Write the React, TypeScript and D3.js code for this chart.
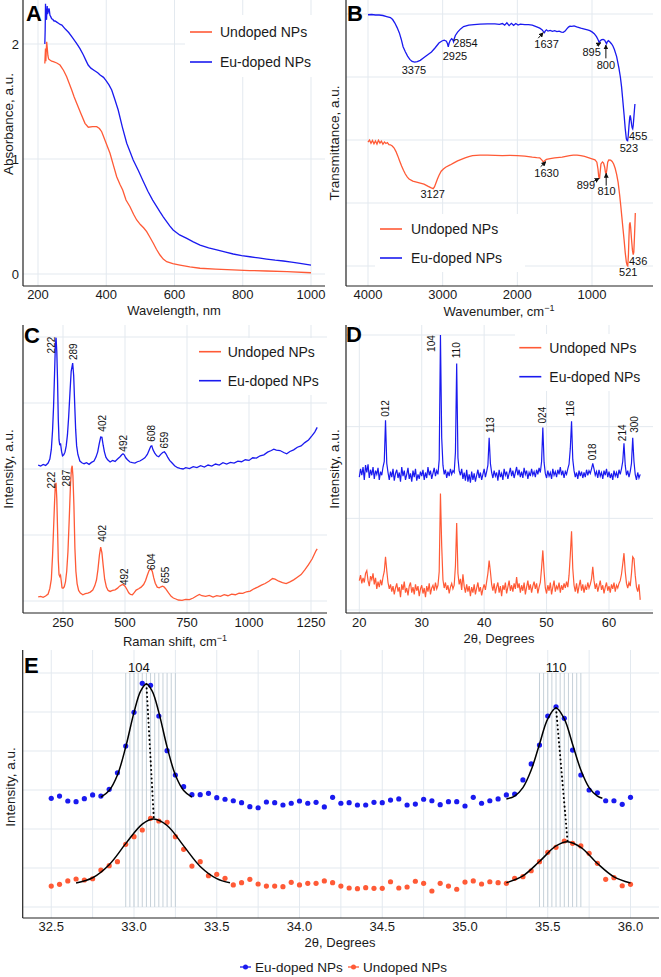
import React from 'react';
import * as d3 from 'd3';

type Pt = [number, number];

const FONT = 'Liberation Sans, Arial, Helvetica, sans-serif';
const RED = '#ff5a36';
const BLUE = '#1a1aef';
const GRID = '#e3e9ef';
const RUG = '#c6d1d9';
const AXIS = '#222';

// ---------- Panel A: UV-Vis ----------
const uvUndoped: Pt[] = [[220,1.83],[221,1.90],[222,1.96],[223,1.85],[224,1.93],[225.5,2.02],[227,1.97],[229,1.90],[231,1.87],[235,1.86],[240,1.85],[245,1.846],[255,1.835],[264.5,1.817],[275,1.77],[284,1.716],[291,1.66],[298.8,1.6],[306,1.54],[313.4,1.484],[325,1.40],[337.7,1.31],[347.4,1.276],[360,1.282],[372,1.281],[380,1.265],[386.7,1.237],[398,1.15],[411,1.05],[420,0.955],[430.6,0.846],[440,0.78],[448.2,0.73],[457.9,0.643],[469.6,0.585],[480,0.52],[489.2,0.47],[500,0.43],[510,0.40],[518.5,0.368],[528,0.32],[537.9,0.267],[547,0.215],[557.5,0.165],[567,0.13],[577.1,0.107],[595,0.09],[616.1,0.078],[645,0.062],[674.7,0.05],[720,0.042],[771.4,0.035],[820,0.03],[870,0.026],[930,0.02],[1000,0.011]];
const uvEu: Pt[] = [[220,2.0],[221,2.12],[222,2.35],[223,2.22],[224,2.26],[225,2.21],[226,2.29],[227,2.33],[228,2.26],[230,2.28],[232,2.31],[233,2.30],[235,2.25],[237,2.24],[240,2.22],[243,2.215],[247,2.2],[250,2.2],[255,2.19],[260,2.18],[265,2.17],[270,2.165],[280,2.13],[290,2.1],[300,2.06],[313,2.006],[323,1.96],[333,1.904],[340,1.86],[347,1.817],[355,1.79],[365,1.77],[375,1.75],[382,1.73],[392,1.71],[400,1.68],[408,1.645],[416,1.6],[425,1.52],[435,1.426],[447,1.28],[460,1.137],[470,1.06],[479,0.991],[494,0.9],[509,0.803],[522,0.72],[536,0.643],[547,0.59],[557,0.542],[567,0.497],[577,0.455],[586,0.418],[596,0.383],[615,0.34],[636,0.31],[655,0.28],[675,0.252],[700,0.228],[724,0.209],[750,0.19],[772,0.174],[797,0.16],[821,0.15],[846,0.14],[870,0.13],[895,0.12],[919,0.113],[943,0.104],[968,0.093],[1000,0.078]];
const uvTicksX = [200, 400, 600, 800, 1000];
const uvTicksY = [0, 1, 2];

// ---------- Panel B: FTIR ----------
const irEu: Pt[] = [[4000,99.7],[3950,99.8],[3900,99.6],[3850,99.6],[3800,99.4],[3750,99.0],[3700,98.6],[3670,97.8],[3640,96.4],[3610,94.6],[3580,92.5],[3555,90.0],[3530,87.0],[3500,85.0],[3470,83.3],[3440,82.0],[3410,81.2],[3375,80.9],[3340,81.1],[3300,81.6],[3250,82.7],[3200,83.8],[3150,84.9],[3100,86.6],[3050,88.5],[3010,89.3],[2980,89.6],[2950,89.2],[2935,88.2],[2925,87.0],[2915,88.3],[2900,89.5],[2880,90.2],[2865,89.8],[2854,89.0],[2845,90.2],[2830,91.5],[2800,92.8],[2760,94.1],[2720,95.0],[2650,95.6],[2580,95.8],[2500,96.0],[2400,96.1],[2300,96.1],[2240,95.9],[2200,96.2],[2170,95.6],[2140,96.5],[2110,95.4],[2080,96.3],[2050,95.5],[2020,96.2],[1990,95.6],[1960,96.0],[1900,95.8],[1850,95.8],[1800,95.6],[1740,94.9],[1700,94.4],[1670,93.8],[1650,93.0],[1637,92.6],[1625,93.3],[1610,93.7],[1590,93.2],[1560,93.5],[1530,93.1],[1500,93.4],[1470,93.0],[1440,93.2],[1410,92.8],[1385,92.7],[1360,93.2],[1340,94.0],[1315,94.8],[1296,95.2],[1270,95.1],[1240,95.3],[1205,94.9],[1150,94.4],[1100,94.0],[1060,93.7],[1029,93.4],[1000,92.9],[970,92.2],[940,91.0],[920,89.9],[903,88.6],[890,89.4],[870,89.8],[850,89.9],[830,89.6],[815,88.7],[805,88.2],[795,89.0],[780,89.4],[760,88.9],[740,88.2],[720,87.3],[700,85.9],[670,83.1],[640,78.6],[620,75.0],[604,71.1],[590,66.5],[570,59.9],[555,54.5],[540,50.5],[530,49.8],[523,49.7],[515,51.5],[505,55.5],[495,58.9],[488,59.8],[480,58.5],[470,56.2],[462,54.8],[455,54.4],[448,55.8],[440,58.7],[432,61.8],[425,64.3]];
const irUndoped: Pt[] = [[4000,49.2],[3980,50.0],[3960,48.7],[3940,49.8],[3920,48.5],[3900,49.6],[3880,48.4],[3860,49.9],[3840,48.8],[3820,49.5],[3800,48.3],[3780,49.2],[3760,48.6],[3740,49.0],[3720,48.2],[3700,48.1],[3675,47.6],[3650,46.8],[3625,45.4],[3600,43.6],[3575,41.6],[3550,39.7],[3525,38.0],[3500,36.5],[3475,35.4],[3450,34.5],[3400,33.7],[3350,33.3],[3300,32.9],[3250,32.5],[3200,31.7],[3160,31.1],[3127,30.7],[3110,31.4],[3090,32.9],[3070,34.5],[3050,35.9],[3020,37.6],[2990,38.5],[2960,39.2],[2900,40.1],[2850,40.9],[2800,41.7],[2750,42.3],[2700,42.9],[2650,43.4],[2600,43.8],[2500,44.0],[2400,44.0],[2300,43.9],[2200,43.8],[2100,43.9],[2000,43.8],[1900,43.6],[1800,43.2],[1740,43.0],[1700,42.9],[1670,42.0],[1652,41.3],[1635,41.8],[1610,42.3],[1560,42.6],[1500,42.9],[1400,43.2],[1300,43.8],[1250,44.0],[1200,44.0],[1150,43.8],[1100,43.5],[1050,43.0],[1000,42.5],[960,42.1],[935,41.2],[920,38.5],[910,35.5],[899,34.6],[890,37.5],[880,40.5],[860,41.3],[845,40.8],[830,39.2],[820,37.2],[810,36.6],[800,38.5],[790,41.2],[775,42.1],[750,42.0],[730,41.5],[710,40.5],[690,38.8],[670,36.4],[650,33.2],[630,28.2],[615,24.0],[600,19.4],[585,14.8],[570,10.3],[555,5.3],[540,1.5],[530,0.3],[521,0.0],[512,4.5],[505,11.5],[498,16.5],[490,17.3],[482,15.2],[470,10.3],[458,6.2],[448,4.5],[440,5.5],[432,11.0],[425,16.5],[420,21.0]];
const irTicksX = [4000, 3000, 2000, 1000];
const irGridY = [0, 25, 50, 75, 100];
// label text, [wavenumber, T] of label centre
const irLabelsEu: [string, number, number][] = [['3375',3384,77.8],['2925',2835,83.4],['2854',2694,88.4],['1637',1608,88.0],['895',1005,84.8],['800',814,79.8],['523',506,46.9],['455',382,51.7]];
const irLabelsUndoped: [string, number, number][] = [['3127',3134,28.5],['1630',1608,36.8],['899',1082,32.1],['810',805,29.8],['521',515,-2.3],['436',382,2.0]];
// arrows [tailWn, tailT, headWn, headT]
const irArrows: [number, number, number, number][] = [[1720,90.4,1653,92.6],[938,87.7,881,88.6],[814,82.4,814,87.7],[1688,39.4,1617,41.4],[984,33.5,904,34.8],[810,31.9,810,36.8]];

// ---------- Panel C: Raman ----------
const ramanEu: Pt[] = [[150,2060],[160,2045],[170,2070],[180,2055],[190,2091],[197,2150],[203,2300],[208,2591],[212,2950],[216,3450],[219,3850],[222,3990],[225,3780],[228,3350],[231,2750],[234,2440],[237,2360],[240,2390],[244,2270],[248,2200],[253,2215],[258,2255],[263,2350],[268,2520],[273,2800],[278,3150],[283,3480],[289,3606],[293,3420],[297,3000],[301,2600],[305,2350],[310,2220],[318,2121],[326,2095],[335,2080],[345,2095],[355,2070],[365,2100],[375,2120],[383,2180],[390,2260],[396,2380],[402,2485],[407,2480],[412,2360],[417,2260],[423,2180],[430,2140],[440,2106],[450,2130],[460,2115],[470,2150],[480,2185],[487,2215],[492,2230],[497,2215],[503,2170],[510,2140],[520,2106],[530,2095],[540,2090],[550,2110],[560,2121],[570,2145],[580,2170],[590,2220],[598,2290],[604,2345],[608,2350],[613,2290],[620,2240],[628,2200],[636,2185],[645,2225],[652,2250],[659,2260],[665,2230],[672,2180],[680,2130],[690,2090],[700,2050],[712,2020],[722,2010],[734,2000],[745,2020],[760,2005],[775,2035],[790,2020],[805,2050],[820,2030],[835,2060],[850,2045],[865,2075],[880,2060],[895,2095],[910,2075],[925,2100],[940,2090],[955,2120],[970,2110],[985,2140],[1000,2130],[1015,2170],[1030,2165],[1045,2200],[1060,2215],[1075,2255],[1090,2280],[1100,2300],[1110,2285],[1125,2280],[1140,2250],[1152,2230],[1165,2265],[1180,2290],[1195,2330],[1210,2350],[1225,2400],[1240,2440],[1255,2510],[1265,2560],[1275,2630]];
const ramanUndoped: Pt[] = [[150,61],[160,70],[170,55],[180,75],[190,106],[197,190],[203,330],[208,697],[212,1100],[216,1500],[219,1757],[222,1790],[225,1550],[228,1100],[231,620],[234,400],[237,370],[240,390],[243,300],[246,200],[250,195],[255,215],[260,290],[265,450],[270,750],[275,1227],[280,1750],[284,2000],[287,2050],[290,1900],[294,1450],[298,800],[302,450],[307,260],[313,160],[320,120],[330,95],[340,110],[350,121],[360,135],[370,167],[378,230],[385,318],[391,480],[397,700],[402,818],[407,730],[412,540],[418,330],[425,210],[432,160],[440,145],[450,160],[460,170],[470,195],[478,225],[485,240],[492,250],[500,225],[508,175],[515,125],[522,100],[530,95],[538,130],[545,165],[555,185],[565,210],[575,250],[583,310],[590,390],[597,460],[604,488],[610,450],[616,350],[622,270],[630,210],[638,200],[645,215],[651,225],[657,215],[663,190],[670,155],[678,110],[686,70],[695,45],[705,30],[715,15],[730,10],[745,25],[760,20],[775,45],[790,80],[800,100],[810,80],[825,70],[840,85],[855,60],[870,80],[885,70],[900,95],[915,80],[930,105],[945,95],[960,120],[975,115],[990,140],[1005,150],[1020,185],[1035,210],[1050,240],[1065,265],[1080,300],[1095,340],[1105,330],[1120,300],[1135,280],[1150,265],[1165,290],[1180,320],[1195,360],[1210,400],[1225,470],[1240,550],[1255,640],[1270,760],[1275,790]];
const ramanTicksX = [250, 500, 750, 1000, 1250];
const ramanGridY = [0, 1000, 2000, 3000, 4000];
const ramanLabelsEu: [string, number, number][] = [['222',204,3878],['289',294,3777],['402',408,2692],['492',496,2389],['608',608,2541],['659',661,2439]];
const ramanLabelsUndoped: [string, number, number][] = [['222',204,1833],['287',266,1863],['402',408,1026],['492',500,368],['604',608,595],['655',665,394]];

// ---------- Panel D: XRD ----------
const xrdTwoTheta = [20.0,20.2,20.4,20.6,20.8,21.0,21.2,21.4,21.6,21.8,22.0,22.2,22.4,22.6,22.8,23.0,23.2,23.4,23.6,23.8,24.0,24.2,24.4,24.6,24.8,25.0,25.2,25.4,25.6,25.8,26.0,26.2,26.4,26.6,26.8,27.0,27.2,27.4,27.6,27.8,28.0,28.2,28.4,28.6,28.8,29.0,29.2,29.4,29.6,29.8,30.0,30.2,30.4,30.6,30.8,31.0,31.2,31.4,31.6,31.8,32.0,32.2,32.4,32.6,32.8,33.0,33.2,33.4,33.6,33.8,34.0,34.2,34.4,34.6,34.8,35.0,35.2,35.4,35.6,35.8,36.0,36.2,36.4,36.6,36.8,37.0,37.2,37.4,37.6,37.8,38.0,38.2,38.4,38.6,38.8,39.0,39.2,39.4,39.6,39.8,40.0,40.2,40.4,40.6,40.8,41.0,41.2,41.4,41.6,41.8,42.0,42.2,42.4,42.6,42.8,43.0,43.2,43.4,43.6,43.8,44.0,44.2,44.4,44.6,44.8,45.0,45.2,45.4,45.6,45.8,46.0,46.2,46.4,46.6,46.8,47.0,47.2,47.4,47.6,47.8,48.0,48.2,48.4,48.6,48.8,49.0,49.2,49.4,49.6,49.8,50.0,50.2,50.4,50.6,50.8,51.0,51.2,51.4,51.6,51.8,52.0,52.2,52.4,52.6,52.8,53.0,53.2,53.4,53.6,53.8,54.0,54.2,54.4,54.6,54.8,55.0,55.2,55.4,55.6,55.8,56.0,56.2,56.4,56.6,56.8,57.0,57.2,57.4,57.6,57.8,58.0,58.2,58.4,58.6,58.8,59.0,59.2,59.4,59.6,59.8,60.0,60.2,60.4,60.6,60.8,61.0,61.2,61.4,61.6,61.8,62.0,62.2,62.4,62.6,62.8,63.0,63.2,63.4,63.6,63.8,64.0,64.2,64.4,64.6,64.8,65.0];
const xrdEu = [1450,1540,1470,1560,1420,1580,1500,1590,1440,1530,1470,1560,1430,1520,1480,1550,1420,1510,1470,1560,1620,2070,1600,1500,1420,1510,1450,1540,1410,1490,1530,1440,1500,1400,1560,1460,1520,1420,1480,1550,1430,1490,1400,1520,1450,1540,1410,1480,1430,1510,1460,1530,1420,1500,1440,1560,1470,1520,1430,1490,1550,1460,1520,1480,1640,3000,1880,1580,1480,1530,1440,1510,1460,1540,1480,1520,1500,1720,2690,1660,1520,1470,1540,1430,1500,1410,1530,1400,1480,1390,1510,1420,1490,1400,1470,1530,1440,1500,1420,1480,1540,1450,1510,1580,1880,1600,1500,1440,1520,1460,1500,1410,1530,1450,1490,1420,1540,1470,1510,1430,1490,1550,1460,1520,1440,1500,1560,1470,1530,1450,1510,1440,1550,1480,1520,1430,1500,1460,1540,1470,1510,1450,1530,1480,1550,1500,1620,1990,1610,1490,1440,1520,1460,1500,1430,1540,1470,1510,1450,1530,1480,1560,1470,1520,1440,1510,1480,1540,1590,1760,2060,1640,1520,1450,1500,1430,1520,1460,1510,1440,1500,1450,1530,1470,1520,1490,1540,1600,1540,1470,1510,1440,1530,1460,1500,1430,1520,1470,1540,1450,1510,1440,1490,1420,1520,1460,1500,1440,1530,1480,1540,1620,1820,1580,1470,1520,1450,1510,1600,1880,1620,1480,1420,1500,1440,1480];
const xrdUndoped = [320,380,290,350,300,400,430,320,260,370,330,400,280,350,230,310,250,330,270,360,420,580,430,300,230,280,200,260,170,240,290,200,250,140,280,220,310,190,240,160,260,300,190,250,170,280,210,260,150,230,270,180,240,140,260,200,290,170,240,270,210,300,230,270,420,1270,700,330,240,300,220,270,180,250,290,230,270,480,950,400,280,340,220,390,260,190,280,200,260,150,250,190,280,170,240,300,200,250,160,230,280,220,310,400,540,420,280,210,290,180,250,300,190,260,150,270,220,300,180,250,320,210,270,200,290,230,360,240,290,190,270,210,300,170,250,320,220,280,190,260,310,230,290,180,250,300,460,650,420,240,180,270,210,300,170,250,320,200,260,230,300,190,270,220,290,240,310,250,380,600,860,450,270,200,290,180,260,330,210,280,190,260,220,300,240,280,340,470,320,230,290,200,260,320,220,270,180,250,300,210,260,190,280,230,300,200,270,240,290,320,390,500,620,420,290,240,300,260,400,580,560,380,250,200,280,110];
const xrdTicksX = [20, 30, 40, 50, 60];
const xrdGridY = [0, 1000, 2000, 3000];
const xrdLabels: [string, number, number][] = [['012',24.12,2199],['104',31.6,2907],['110',35.6,2834],['113',40.95,2017],['024',49.33,2126],['116',53.88,2199],['018',57.34,1725],['214',62.21,1933],['300',64.02,2024]];

// ---------- Panel E: XRD zoom ----------
const zoomTwoTheta = [32.50,32.55,32.60,32.65,32.70,32.75,32.80,32.85,32.90,32.95,33.00,33.05,33.10,33.15,33.20,33.25,33.30,33.35,33.40,33.45,33.50,33.55,33.60,33.65,33.70,33.75,33.80,33.85,33.90,33.95,34.00,34.05,34.10,34.15,34.20,34.25,34.30,34.35,34.40,34.45,34.50,34.55,34.60,34.65,34.70,34.75,34.80,34.85,34.90,34.95,35.00,35.05,35.10,35.15,35.20,35.25,35.30,35.35,35.40,35.45,35.50,35.55,35.60,35.65,35.70,35.75,35.80,35.85,35.90,35.95,36.00];
const zoomEu = [1115,1138,1087,1080,1111,1149,1138,1207,1377,1651,1997,2294,2274,1959,1603,1354,1234,1152,1152,1166,1121,1105,1090,1070,1029,1018,1077,1070,1046,1064,1087,1064,1074,1026,1125,1064,1070,1046,1046,1074,1070,1097,1108,1046,1056,1105,1090,1049,1080,1080,1036,1125,1064,1090,1108,1149,1159,1303,1467,1661,1959,2054,1935,1610,1354,1200,1172,1090,1090,1053,1125];
const zoomUndoped = [215,233,267,287,277,290,379,424,465,643,721,790,910,882,869,721,592,420,465,321,335,294,226,249,284,236,215,215,208,253,226,243,243,267,249,215,195,188,198,192,192,259,195,205,264,243,164,243,215,182,256,267,236,259,249,243,294,311,372,465,561,612,677,653,626,551,448,284,301,218,233];
const fitEu104: Pt[] = [[32.80,1126],[32.85,1195],[32.90,1354],[32.95,1641],[33.00,1996],[33.04,2215],[33.075,2287],[33.11,2215],[33.15,1996],[33.20,1641],[33.25,1354],[33.30,1195],[33.35,1126]];
const fitEu110: Pt[] = [[35.25,1108],[35.30,1138],[35.35,1225],[35.40,1405],[35.45,1670],[35.50,1929],[35.55,2041],[35.60,1929],[35.65,1670],[35.70,1405],[35.75,1225],[35.80,1138],[35.83,1115]];
const fitUndoped104: Pt[] = [[32.65,246],[32.75,300],[32.85,434],[32.95,650],[33.05,851],[33.12,903],[33.20,836],[33.30,627],[33.40,416],[33.50,291],[33.58,248]];
const fitUndoped110: Pt[] = [[35.25,249],[35.35,319],[35.45,467],[35.55,626],[35.62,670],[35.70,611],[35.80,446],[35.90,309],[36.00,246]];
const shift104: Pt[] = [[33.075,2287],[33.12,903]];
const shift110: Pt[] = [[35.55,2041],[35.62,670]];
const rug104 = [32.95,32.975,33.0,33.025,33.05,33.075,33.1,33.125,33.15,33.175,33.2,33.225,33.25];
const rug110 = [35.45,35.475,35.5,35.525,35.55,35.575,35.6,35.625,35.65,35.675,35.7];
const zoomTicksX = [32.5, 33.0, 33.5, 34.0, 34.5, 35.0, 35.5, 36.0];
const zoomGridX = [32.5,32.75,33.0,33.25,33.5,33.75,34.0,34.25,34.5,34.75,35.0,35.25,35.5,35.75,36.0];
const zoomGridY = [0, 400, 800, 1200, 1600, 2000, 2400];
const zoomPeakLabels: [string, number][] = [['104', 33.03], ['110', 35.55]];

// ---------- scales ----------
const xA = d3.scaleLinear().domain([200, 1000]).range([38, 311]);
const yA = d3.scaleLinear().domain([0, 2]).range([274, 44]);
const xB = d3.scaleLinear().domain([4000, 1000]).range([368, 592]);
const yB = d3.scaleLinear().domain([0, 100]).range([266, 14]);
const xC = d3.scaleLinear().domain([250, 1250]).range([63, 311]);
const yC = d3.scaleLinear().domain([0, 4000]).range([601, 337]);
const xD = d3.scaleLinear().domain([20, 60]).range([359.3, 609]);
const yD = d3.scaleLinear().domain([0, 3000]).range([610, 335]);
const xE = d3.scaleLinear().domain([33, 35]).range([134, 465]);
const yE = d3.scaleLinear().domain([0, 2400]).range([907, 673]);

type Box = { x0: number; x1: number; y0: number; y1: number };
const boxA: Box = { x0: 23, x1: 325, y0: 0, y1: 286 };
const boxB: Box = { x0: 346, x1: 653, y0: 0, y1: 286 };
const boxC: Box = { x0: 23, x1: 327, y0: 325, y1: 613 };
const boxD: Box = { x0: 346, x1: 653, y0: 325, y1: 613 };
const boxE: Box = { x0: 22.7, x1: 659, y0: 650, y1: 918 };

const mkLine = (sx: d3.ScaleLinear<number, number>, sy: d3.ScaleLinear<number, number>) =>
  d3.line<Pt>().x(d => sx(d[0])).y(d => sy(d[1]));

function Grid({ box, xs, ys }: { box: Box; xs: number[]; ys: number[] }) {
  return (
    <g>
      {xs.map((x, i) => <line key={'gx' + i} x1={x} x2={x} y1={box.y0} y2={box.y1} stroke={GRID} strokeWidth={1} />)}
      {ys.map((y, i) => <line key={'gy' + i} x1={box.x0} x2={box.x1} y1={y} y2={y} stroke={GRID} strokeWidth={1} />)}
    </g>
  );
}

function Axes({ box }: { box: Box }) {
  return (
    <g>
      <line x1={box.x0} x2={box.x0} y1={box.y0} y2={box.y1} stroke={AXIS} strokeWidth={1.2} />
      <line x1={box.x0} x2={box.x1} y1={box.y1} y2={box.y1} stroke={AXIS} strokeWidth={1.2} />
    </g>
  );
}

function XTickLabels({ ticks, scale, y, fmt }: { ticks: number[]; scale: (v: number) => number; y: number; fmt?: (v: number) => string }) {
  return (
    <g>
      {ticks.map((t, i) => (
        <text key={i} x={scale(t)} y={y} textAnchor="middle" fontSize={13} fill="#1a1a1a">{fmt ? fmt(t) : String(t)}</text>
      ))}
    </g>
  );
}

function Legend({ x, y, w, h, lx, ly1, ly2, tx }: { x: number; y: number; w: number; h: number; lx: number; ly1: number; ly2: number; tx: number }) {
  return (
    <g>
      <rect x={x} y={y} width={w} height={h} fill="#fff" />
      <line x1={lx} x2={lx + 22} y1={ly1} y2={ly1} stroke={RED} strokeWidth={1.6} />
      <text x={tx} y={ly1 + 5} fontSize={14} fill="#1a1a1a">Undoped NPs</text>
      <line x1={lx} x2={lx + 22} y1={ly2} y2={ly2} stroke={BLUE} strokeWidth={1.6} />
      <text x={tx} y={ly2 + 5} fontSize={14} fill="#1a1a1a">Eu-doped NPs</text>
    </g>
  );
}

function RotLabel({ text, x, y, size = 10 }: { text: string; x: number; y: number; size?: number }) {
  return (
    <text x={x} y={y} transform={`rotate(-90 ${x} ${y})`} textAnchor="middle" dominantBaseline="central" fontSize={size} fill="#111">{text}</text>
  );
}

function YTitle({ text, x, y }: { text: string; x: number; y: number }) {
  return (
    <text x={x} y={y} transform={`rotate(-90 ${x} ${y})`} textAnchor="middle" dominantBaseline="central" fontSize={13.5} fill="#1a1a1a">{text}</text>
  );
}

function PanelLetter({ t, x, y }: { t: string; x: number; y: number }) {
  return <text x={x} y={y} fontSize={22} fontWeight="bold" fill="#000">{t}</text>;
}

export default function App() {
  const lA = mkLine(xA, yA);
  const lB = mkLine(xB, yB);
  const lC = mkLine(xC, yC);
  const lD = mkLine(xD, yD);
  const lE = mkLine(xE, yE).curve(d3.curveCatmullRom.alpha(0.5));
  const lEstraight = mkLine(xE, yE);

  const xrdEuPts: Pt[] = xrdTwoTheta.map((t, i) => [t, xrdEu[i]]);
  const xrdUnPts: Pt[] = xrdTwoTheta.map((t, i) => [t, xrdUndoped[i]]);

  return (
    <svg width={661} height={977} style={{ position: 'absolute', left: 0, top: 0, background: '#fff' }} fontFamily={FONT}>
      <defs>
        <marker id="arrowHead" viewBox="0 0 10 10" refX="9" refY="5" markerWidth="5" markerHeight="5" orient="auto">
          <path d="M0,0L10,5L0,10z" fill="#111" />
        </marker>
      </defs>
      <rect x={0} y={0} width={661} height={977} fill="#fff" />

      {/* ---------- Panel A ---------- */}
      <Grid box={boxA} xs={uvTicksX.map(xA)} ys={uvTicksY.map(yA)} />
      <Legend x={185} y={15} w={140} h={62} lx={190} ly1={32} ly2={62} tx={220} />
      <path d={lA(uvUndoped) || ''} fill="none" stroke={RED} strokeWidth={1.3} />
      <path d={lA(uvEu) || ''} fill="none" stroke={BLUE} strokeWidth={1.3} />
      <Axes box={boxA} />
      <XTickLabels ticks={uvTicksX} scale={xA} y={299} />
      {uvTicksY.map((t, i) => (
        <text key={i} x={19} y={yA(t) + 4.5} textAnchor="end" fontSize={13} fill="#1a1a1a">{t}</text>
      ))}
      <text x={174} y={314.5} textAnchor="middle" fontSize={13} fill="#1a1a1a">Wavelength, nm</text>
      <YTitle text="Absorbance, a.u." x={8} y={124} />
      <PanelLetter t="A" x={26} y={21} />

      {/* ---------- Panel B ---------- */}
      <Grid box={boxB} xs={irTicksX.map(xB)} ys={irGridY.map(yB)} />
      <Legend x={375} y={214} w={150} h={58} lx={380} ly1={229} ly2={258} tx={411} />
      <path d={lB(irEu) || ''} fill="none" stroke={BLUE} strokeWidth={1.3} />
      <path d={lB(irUndoped) || ''} fill="none" stroke={RED} strokeWidth={1.3} />
      {irLabelsEu.concat(irLabelsUndoped).map(([t, w, v], i) => (
        <text key={i} x={xB(w)} y={yB(v)} textAnchor="middle" dominantBaseline="central" fontSize={11} fill="#111">{t}</text>
      ))}
      {irArrows.map(([w0, v0, w1, v1], i) => (
        <line key={i} x1={xB(w0)} y1={yB(v0)} x2={xB(w1)} y2={yB(v1)} stroke="#111" strokeWidth={1} markerEnd="url(#arrowHead)" />
      ))}
      <Axes box={boxB} />
      <XTickLabels ticks={irTicksX} scale={xB} y={299} />
      <text x={499} y={316} textAnchor="middle" fontSize={13} fill="#1a1a1a">Wavenumber, cm<tspan dy={-5} fontSize={9}>−1</tspan></text>
      <YTitle text="Transmittance, a.u." x={334} y={143} />
      <PanelLetter t="B" x={347} y={21} />

      {/* ---------- Panel C ---------- */}
      <Grid box={boxC} xs={ramanTicksX.map(xC)} ys={ramanGridY.map(yC)} />
      <Legend x={194} y={338} w={133} h={57} lx={199} ly1={351.7} ly2={380.7} tx={227.7} />
      <path d={lC(ramanEu) || ''} fill="none" stroke={BLUE} strokeWidth={1.3} />
      <path d={lC(ramanUndoped) || ''} fill="none" stroke={RED} strokeWidth={1.3} />
      {ramanLabelsEu.concat(ramanLabelsUndoped).map(([t, w, v], i) => (
        <RotLabel key={i} text={t} x={xC(w)} y={yC(v)} />
      ))}
      <Axes box={boxC} />
      <XTickLabels ticks={ramanTicksX} scale={xC} y={627} />
      <text x={175} y={645.5} textAnchor="middle" fontSize={13} fill="#1a1a1a">Raman shift, cm<tspan dy={-5} fontSize={9}>−1</tspan></text>
      <YTitle text="Intensity, a.u." x={8} y={469} />
      <PanelLetter t="C" x={24} y={343} />

      {/* ---------- Panel D ---------- */}
      <Grid box={boxD} xs={xrdTicksX.map(xD)} ys={xrdGridY.map(yD)} />
      <Legend x={515} y={334} w={138} h={57} lx={519.3} ly1={347.7} ly2={376.7} tx={549.3} />
      <path d={lD(xrdEuPts) || ''} fill="none" stroke={BLUE} strokeWidth={1.2} />
      <path d={lD(xrdUnPts) || ''} fill="none" stroke={RED} strokeWidth={1.2} />
      {xrdLabels.map(([t, w, v], i) => (
        <RotLabel key={i} text={t} x={xD(w)} y={yD(v)} />
      ))}
      <Axes box={boxD} />
      <XTickLabels ticks={xrdTicksX} scale={xD} y={627} />
      <text x={499} y={642.5} textAnchor="middle" fontSize={13} fill="#1a1a1a">2θ, Degrees</text>
      <YTitle text="Intensity, a.u." x={334} y={469} />
      <PanelLetter t="D" x={346} y={342} />

      {/* ---------- Panel E ---------- */}
      <Grid box={boxE} xs={zoomGridX.map(xE)} ys={zoomGridY.map(yE)} />
      {rug104.concat(rug110).map((t, i) => (
        <line key={i} x1={xE(t)} x2={xE(t)} y1={yE(2400)} y2={yE(0)} stroke={RUG} strokeWidth={1} />
      ))}
      {zoomPeakLabels.map(([t, w], i) => (
        <text key={i} x={xE(w)} y={yE(2400) - 1} textAnchor="middle" fontSize={13} fill="#111">{t}</text>
      ))}
      {zoomTwoTheta.map((t, i) => (
        <circle key={'eb' + i} cx={xE(t)} cy={yE(zoomEu[i])} r={2.6} fill={BLUE} />
      ))}
      {zoomTwoTheta.map((t, i) => (
        <circle key={'er' + i} cx={xE(t)} cy={yE(zoomUndoped[i])} r={2.6} fill={RED} />
      ))}
      {[fitEu104, fitEu110, fitUndoped104, fitUndoped110].map((f, i) => (
        <path key={'f' + i} d={lE(f) || ''} fill="none" stroke="#000" strokeWidth={1.5} />
      ))}
      {[shift104, shift110].map((s, i) => (
        <path key={'s' + i} d={lEstraight(s) || ''} fill="none" stroke="#000" strokeWidth={2} strokeDasharray="0.1 4.2" strokeLinecap="round" />
      ))}
      <Axes box={boxE} />
      <XTickLabels ticks={zoomTicksX} scale={xE} y={930.5} fmt={d3.format('.1f')} />
      <text x={340} y={947} textAnchor="middle" fontSize={13} fill="#1a1a1a">2θ, Degrees</text>
      <YTitle text="Intensity, a.u." x={10} y={787} />
      <PanelLetter t="E" x={24} y={673} />

      {/* bottom legend */}
      <g>
        <line x1={240} x2={251} y1={967} y2={967} stroke={BLUE} strokeWidth={1.3} />
        <circle cx={245.5} cy={967} r={2.5} fill={BLUE} />
        <text x={255} y={972} fontSize={13.5} fill="#1a1a1a">Eu-doped NPs</text>
        <line x1={348} x2={359} y1={967} y2={967} stroke={RED} strokeWidth={1.3} />
        <circle cx={353.5} cy={967} r={2.5} fill={RED} />
        <text x={363} y={972} fontSize={13.5} fill="#1a1a1a">Undoped NPs</text>
      </g>
    </svg>
  );
}
